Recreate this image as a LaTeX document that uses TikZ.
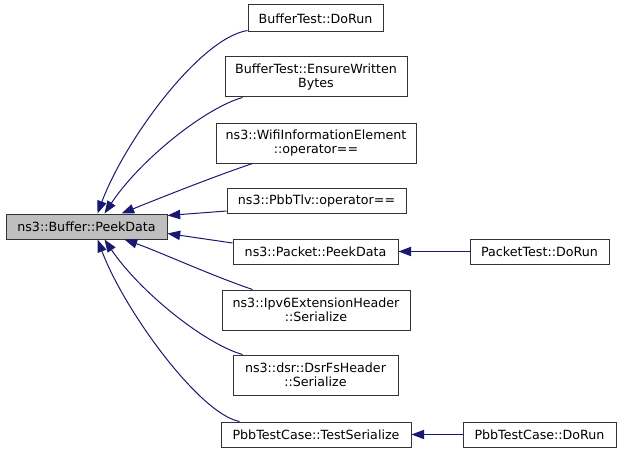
\documentclass[tikz,border=0pt]{standalone}
\usepackage{fontspec}
\setmainfont{DejaVu Sans}
\usetikzlibrary{arrows.meta,calc}
\definecolor{edgecol}{HTML}{191970}
\definecolor{bufgray}{HTML}{BFBFBF}
\begin{document}
\begin{tikzpicture}[x=0.75pt,y=-0.75pt,
  box/.style={draw=black!80,line width=0.75pt,inner sep=0pt,align=center,
    font=\fontsize{9.5}{10.5}\selectfont,minimum height=18.75pt},
  tall/.style={minimum height=30pt},
  edge/.style={draw=edgecol,line width=0.75pt,-{Triangle[length=9.5pt,width=7pt]}}]
\useasboundingbox (0,0) rectangle (621,453);
\node[box,fill=bufgray,minimum width=120.75pt] (buf) at (86.5,226.5) {ns3::Buffer::PeekData};
\node[box,minimum width=101.25pt,minimum height=20.25pt] (dorun) at (315.5,18.5) {BufferTest::DoRun};
\node[box,tall,minimum width=136.5pt] (ensure) at (316,77) {BufferTest::EnsureWritten\\Bytes};
\node[box,tall,minimum width=150pt] (wifi) at (316,143) {ns3::WifiInformationElement\\::operator==};
\node[box,minimum width=134.25pt] (tlv) at (316.5,201) {ns3::PbbTlv::operator==};
\node[box,minimum width=123.75pt] (packet) at (315.5,251.5) {ns3::Packet::PeekData};
\node[box,tall,minimum width=141pt] (ipv6) at (316,310) {ns3::Ipv6ExtensionHeader\\::Serialize};
\node[box,tall,minimum width=123.75pt] (dsr) at (315.5,375) {ns3::dsr::DsrFsHeader\\::Serialize};
\node[box,minimum width=142.5pt] (testser) at (316,434.5) {PbbTestCase::TestSerialize};
\node[box,minimum width=104.25pt] (pkttest) at (539.5,251.5) {PacketTest::DoRun};
\node[box,minimum width=114.75pt] (pbbdorun) at (539.5,434.5) {PbbTestCase::DoRun};

\draw[edge] ($(dorun.south west)+(0,-2)$) .. controls (200,38) and (125,140) .. ($(buf.north)+(11,0)$);
\draw[edge] ($(ensure.south west)+(18,0)$) .. controls (205,108) and (140,160) .. ($(buf.north)+(18,0)$);
\draw[edge] ($(wifi.south west)+(37,0)$) .. controls (210,178) and (160,198) .. ($(buf.north)+(35,0)$);
\draw[edge] ($(tlv.west)+(0,10)$) -- ($(buf.east)+(0,-11)$);
\draw[edge] ($(packet.west)+(0,-8.5)$) -- ($(buf.east)+(0,7)$);
\draw[edge] ($(ipv6.north west)+(31,0)$) .. controls (210,275) and (160,252) .. ($(buf.south)+(38,0)$);
\draw[edge] ($(dsr.north west)+(10,0)$) .. controls (205,344) and (140,292) .. ($(buf.south)+(18,0)$);
\draw[edge] ($(testser.north west)+(19,0)$) .. controls (200,414) and (125,312) .. ($(buf.south)+(11,0)$);
\draw[edge] (pkttest) -- (packet);
\draw[edge] (pbbdorun) -- (testser);
\end{tikzpicture}
\end{document}
